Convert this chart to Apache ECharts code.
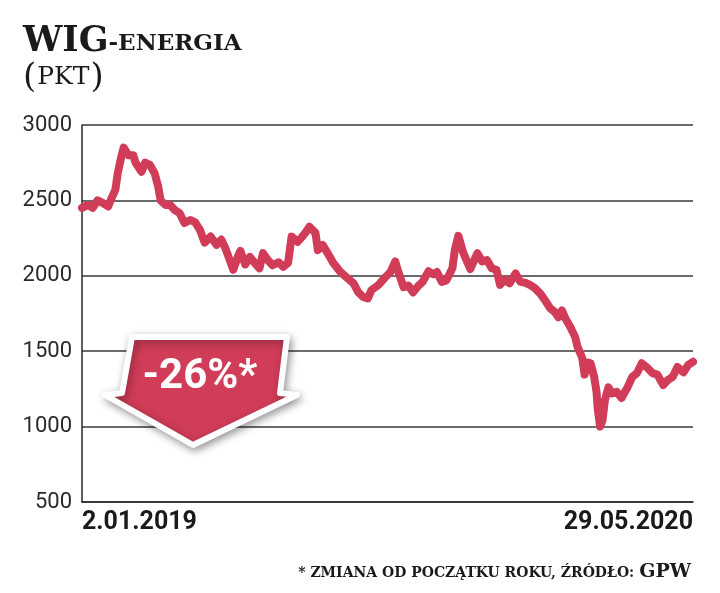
<!DOCTYPE html>
<html>
<head>
<meta charset="utf-8">
<script src="https://cdn.jsdelivr.net/npm/echarts@6/dist/echarts.min.js"></script>
<style>
html,body{margin:0;padding:0;background:#fff;}
#chart{width:720px;height:593px;}
</style>
</head>
<body>
<div id="chart"></div>
<script>
// Days since 2.01.2019 (calendar days)
var days = [0,5,9,13,18,22,24,28,30,33,35,39,43,45,50,53,57,61,64,66,70,74,78,82,86,91,95,99,103,108,113,117,120,124,127,131,133,137,141,145,149,152,156,160,165,169,173,176,181,185,188,191,196,198,202,207,211,217,222,228,232,236,240,243,249,254,259,263,265,270,274,278,282,286,291,295,298,302,306,311,313,316,320,326,332,336,340,344,348,351,355,359,364,368,372,376,380,385,389,393,397,400,403,406,410,414,416,420,422,425,427,430,432,433,435,437,439,442,445,449,453,458,462,466,470,474,479,483,488,492,496,500,505,509,513];
var values = [2450,2470,2450,2500,2480,2460,2500,2570,2680,2790,2850,2800,2800,2750,2690,2750,2735,2680,2590,2500,2470,2470,2435,2415,2350,2370,2355,2305,2220,2260,2205,2240,2190,2105,2040,2130,2165,2075,2125,2085,2050,2150,2105,2070,2090,2060,2085,2260,2225,2260,2290,2325,2285,2170,2205,2140,2085,2025,1990,1950,1890,1860,1850,1905,1940,1985,2025,2095,2040,1925,1935,1890,1930,1960,2030,2010,2025,1960,1970,2050,2170,2265,2155,2045,2150,2095,2105,2050,2040,1940,1975,1950,2015,1960,1955,1940,1920,1880,1835,1785,1760,1725,1770,1715,1660,1595,1530,1455,1345,1425,1420,1330,1230,1120,1000,1040,1175,1260,1220,1230,1190,1260,1330,1355,1420,1395,1355,1345,1275,1310,1330,1395,1360,1410,1430];
var xTickLabels = ['2.01.2019','29.05.2020'];
var yMin = 500, yMax = 3000, yStep = 500;
var changeLabel = '-26%*';

var seriesData = days.map(function(d,i){return [d, values[i]];});
var red = '#d13c58';
var serif = '"DejaVu Serif", "Liberation Serif", serif';
var chart = echarts.init(document.getElementById('chart'));
chart.setOption({
  animation:false,
  backgroundColor:'#fff',
  title:[{
    left:18, top:12,
    text:'{a|WIG}{b|-ENERGIA}',
    textStyle:{rich:{
      a:{fontFamily:serif,fontWeight:'bold',fontSize:35,color:'#1a1a1a',verticalAlign:'bottom',lineHeight:42},
      b:{fontFamily:serif,fontWeight:'bold',fontSize:23,color:'#1a1a1a',verticalAlign:'bottom',lineHeight:42,padding:[0,0,3,0]}
    }}
  },{
    left:18, top:50,
    text:'{p|(}{k|PKT}{p|)}',
    textStyle:{rich:{
      p:{fontFamily:serif,fontWeight:'normal',fontSize:34,color:'#1a1a1a',verticalAlign:'bottom',lineHeight:40},
      k:{fontFamily:serif,fontWeight:'normal',fontSize:25,color:'#1a1a1a',verticalAlign:'bottom',lineHeight:40,padding:[0,1,5,1]}
    }}
  },{
    right:24, top:553,
    text:'{s|* ZMIANA OD POCZĄTKU ROKU, ŹRÓDŁO: }{g|GPW}',
    textStyle:{rich:{
      s:{fontFamily:serif,fontWeight:'bold',fontSize:14,color:'#1a1a1a',verticalAlign:'bottom',lineHeight:24,padding:[0,0,2,0]},
      g:{fontFamily:serif,fontWeight:'bold',fontSize:19,color:'#1a1a1a',verticalAlign:'bottom',lineHeight:24}
    }}
  }],
  grid:{left:82,right:27,top:125,bottom:91,containLabel:false},
  xAxis:{
    type:'value', min:0, max:513, interval:513,
    axisLine:{show:true,lineStyle:{color:'#2a2a2a',width:1.5}},
    axisTick:{show:false},
    splitLine:{show:false},
    axisLabel:{
      margin:8,
      fontFamily:'Roboto', fontWeight:'bold', fontSize:25, color:'#1a1a1a',
      alignMinLabel:'left', alignMaxLabel:'right',
      formatter:function(v){return v===0?xTickLabels[0]:xTickLabels[1];}
    }
  },
  yAxis:{
    type:'value', min:yMin, max:yMax, interval:yStep,
    axisLine:{show:true,lineStyle:{color:'#2a2a2a',width:1.5}},
    axisTick:{show:false},
    splitLine:{show:true,lineStyle:{color:'#3a3a3a',width:1.5}},
    axisLabel:{margin:10,fontFamily:'Roboto',fontSize:22,color:'#2a2a2a',
      formatter:function(v){return String(v);}}
  },
  series:[{
    type:'line', data:seriesData, showSymbol:false, smooth:false,
    lineStyle:{color:red,width:8,cap:'round',join:'round'},
    z:3
  }],
  graphic:[{
    type:'polygon', z:100,
    shape:{points:[[132,337],[287,337],[280,393],[297,395],[193,445],[105,395],[122,393]]},
    style:{fill:red,stroke:'#fff',lineWidth:6,lineJoin:'round',
      shadowBlur:8,shadowColor:'rgba(0,0,0,0.35)',shadowOffsetX:2,shadowOffsetY:3}
  },{
    type:'text', z:101, x:200, y:377,
    style:{text:changeLabel,fill:'#fff',font:'bold 42px Roboto',align:'center',verticalAlign:'middle'}
  }]
});
</script>
</body>
</html>
